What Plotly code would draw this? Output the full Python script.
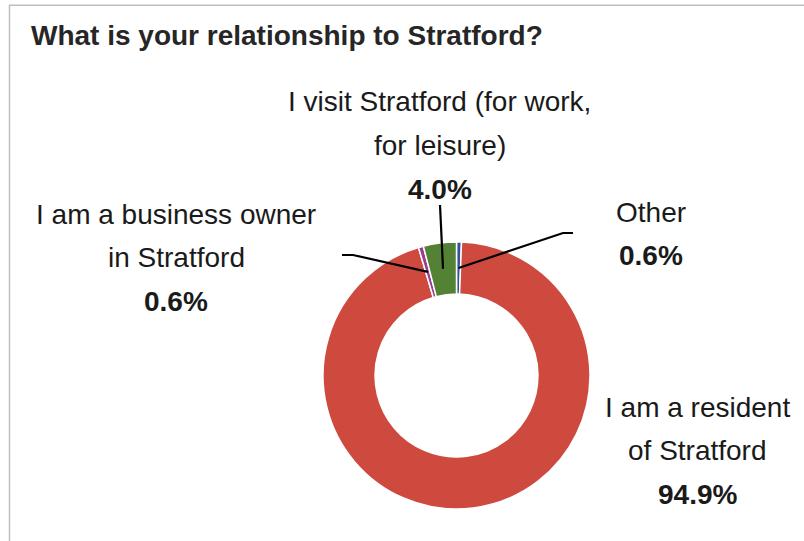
import math
import plotly.graph_objects as go

# ---- data ----
labels = ["Other", "I am a resident of Stratford", "I am a business owner in Stratford",
          "I visit Stratford (for work, for leisure)"]
label_lines = [["Other"], ["I am a resident", "of Stratford"],
               ["I am a business owner", "in Stratford"],
               ["I visit Stratford (for work,", "for leisure)"]]
values = [0.6, 94.9, 0.6, 4.0]
colors = ["#2F5597", "#CF4A3E", "#9B3D8F", "#548235"]
title_text = "What is your relationship to Stratford?"

# body margin is removed by post_script, so window pixels == figure pixels
W, H = 804, 541
def px(x): return x / W
def py(y): return 1 - y / H

# donut geometry (window pixels)
cx, cy, R = 456.5, 375.5, 133.5
hole = 0.61

fig = go.Figure(go.Pie(
    labels=labels, values=values, sort=False, direction="clockwise", rotation=0,
    hole=hole, textinfo="none", hoverinfo="label+percent",
    marker=dict(colors=colors, line=dict(color="white", width=1.5)),
    domain=dict(x=[px(cx - R), px(cx + R)], y=[py(cy + R), py(cy - R)]),
    showlegend=False,
))

# label positions: centre x and first-line y (window pixels)
label_pos = [(651, 212), (697, 407), (176, 214), (440, 102)]
line_step = 43.5
line_elbows = [[(573, 233), (563, 233)], None, [(342, 255), (353, 255)], [(440, 205)]]

FONT = "Liberation Sans, Arial, sans-serif"
total = sum(values)
start = 0.0
annotations = []
shapes = []
for i, v in enumerate(values):
    mid = start + v / total * 360 / 2
    start += v / total * 360
    lx, ly = label_pos[i]
    rows = label_lines[i] + [f"<b>{v:.1f}%</b>"]
    for k, row in enumerate(rows):
        annotations.append(dict(
            x=px(lx), y=py(ly + k * line_step), xref="paper", yref="paper", showarrow=False,
            text=row, font=dict(family=FONT, size=28, color="#1a1a1a"),
            xanchor="center", yanchor="middle",
        ))
    if line_elbows[i]:
        rm = R * (1 + hole) / 2
        ex = cx + rm * math.sin(math.radians(mid))
        ey = cy - rm * math.cos(math.radians(mid))
        pts = line_elbows[i] + [(ex, ey)]
        path = "M " + " L ".join(f"{px(x)},{py(y)}" for x, y in pts)
        shapes.append(dict(type="path", path=path, xref="paper", yref="paper",
                           line=dict(color="black", width=2.2)))

# border
shapes.append(dict(type="rect", xref="paper", yref="paper",
                   x0=px(9.5), x1=px(830), y0=py(570), y1=py(5.3),
                   line=dict(color="#BFBFBF", width=1.5)))

annotations.append(dict(
    x=px(29), y=py(35), xref="paper", yref="paper", showarrow=False,
    text=f"<b>{title_text}</b>", xanchor="left", yanchor="middle",
    font=dict(family=FONT, size=28, color="#262626"),
))

fig.update_layout(
    width=W, height=H, margin=dict(l=0, r=0, t=0, b=0),
    paper_bgcolor="white", plot_bgcolor="white",
    annotations=annotations, shapes=shapes,
)
fig.write_html("out.html", config={"displayModeBar": False},
               post_script="document.body.style.margin='0px';document.body.style.overflow='hidden';")
